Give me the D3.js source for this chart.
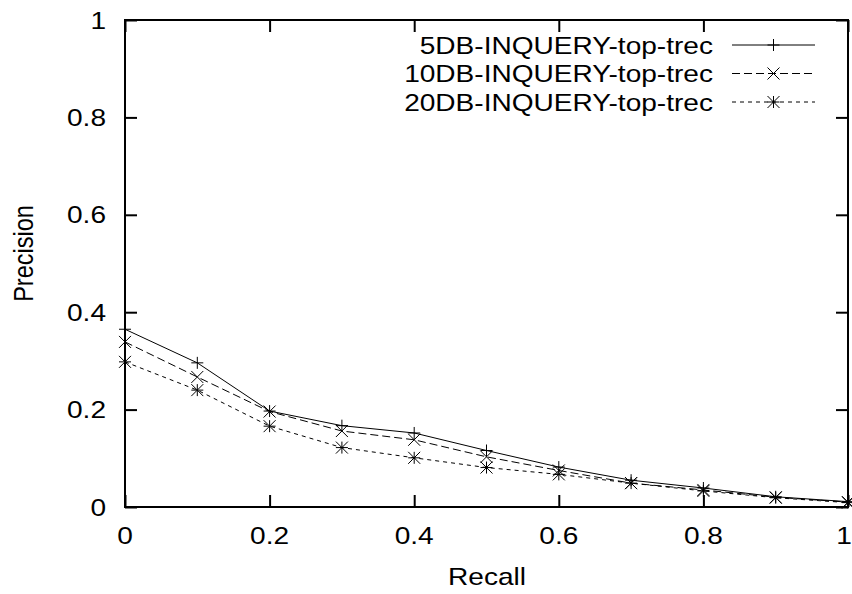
<!DOCTYPE html>
<html>
<head>
<meta charset="utf-8">
<script src="https://cdn.jsdelivr.net/npm/d3@7"></script>
<style>
  html, body { margin: 0; padding: 0; background: #fff; }
  svg { display: block; }
  text { font-family: "Liberation Sans", Arial, Helvetica, sans-serif; fill: #000; }
</style>
</head>
<body>
<svg id="chart" width="852" height="594"></svg>
<script>
// Recall levels shared by all runs
const recall = [0, 0.1, 0.2, 0.3, 0.4, 0.5, 0.6, 0.7, 0.8, 0.9, 1.0];

// Precision at each recall level
const precision5DB  = [0.365, 0.296, 0.197, 0.167, 0.152, 0.116, 0.082, 0.055, 0.039, 0.021, 0.011];
const precision10DB = [0.339, 0.267, 0.196, 0.156, 0.138, 0.103, 0.075, 0.049, 0.035, 0.020, 0.010];
const precision20DB = [0.298, 0.240, 0.166, 0.122, 0.101, 0.081, 0.067, 0.049, 0.033, 0.019, 0.009];

const seriesNames = ["5DB-INQUERY-top-trec", "10DB-INQUERY-top-trec", "20DB-INQUERY-top-trec"];

const xTicks = [0, 0.2, 0.4, 0.6, 0.8, 1];
const xTickLabels = ["0", "0.2", "0.4", "0.6", "0.8", "1"];
const yTicks = [0, 0.2, 0.4, 0.6, 0.8, 1];
const yTickLabels = ["0", "0.2", "0.4", "0.6", "0.8", "1"];

const series = [
  { name: seriesNames[0], values: precision5DB,  dash: null,  marker: "plus" },
  { name: seriesNames[1], values: precision10DB, dash: "8,4", marker: "cross" },
  { name: seriesNames[2], values: precision20DB, dash: "4,4", marker: "star" }
];

const svg = d3.select("#chart");
const plotLeft = 125, plotRight = 848, plotTop = 20, plotBottom = 507;

const x = d3.scaleLinear().domain([0, 1]).range([plotLeft, plotRight]);
const y = d3.scaleLinear().domain([0, 1]).range([plotBottom, plotTop]);

const fontSize = 24;
const stretch = 1.17;   // glyphs are drawn slightly wide
const tickLen = 12;

// Text helper: places a horizontally widened label at (px, py)
function label(px, py, str, anchor) {
  return svg.append("text")
    .attr("transform", `translate(${px},${py}) scale(${stretch},1)`)
    .attr("text-anchor", anchor)
    .attr("font-size", fontSize)
    .text(str);
}

// Inward ticks on all four sides
const axisBottom = d3.axisBottom(x).tickValues(xTicks).tickSize(-tickLen).tickFormat("");
const axisTop = d3.axisTop(x).tickValues(xTicks).tickSize(-tickLen).tickFormat("");
const axisLeft = d3.axisLeft(y).tickValues(yTicks).tickSize(-tickLen).tickFormat("");
const axisRight = d3.axisRight(y).tickValues(yTicks).tickSize(-tickLen).tickFormat("");

function styleAxis(g) {
  g.select(".domain").remove();
  g.selectAll(".tick line").attr("stroke", "#000").attr("stroke-width", 2);
}

svg.append("g").attr("transform", `translate(0,${plotBottom})`).call(axisBottom).call(styleAxis);
svg.append("g").attr("transform", `translate(0,${plotTop})`).call(axisTop).call(styleAxis);
svg.append("g").attr("transform", `translate(${plotLeft},0)`).call(axisLeft).call(styleAxis);
svg.append("g").attr("transform", `translate(${plotRight},0)`).call(axisRight).call(styleAxis);

// Tick labels
xTicks.forEach((v, i) => {
  const px = Math.min(x(v), 844);
  label(px, 544, xTickLabels[i], "middle");
});
yTicks.forEach((v, i) => {
  label(106, y(v) + 8.5, yTickLabels[i], "end");
});

// Plot frame
svg.append("rect")
  .attr("x", plotLeft).attr("y", plotTop)
  .attr("width", plotRight - plotLeft).attr("height", plotBottom - plotTop)
  .attr("fill", "none").attr("stroke", "#000").attr("stroke-width", 2);

// Axis titles
label(487, 585, "Recall", "middle");
svg.append("text")
  .attr("transform", `translate(33,253.5) rotate(-90) scale(1,${stretch})`)
  .attr("text-anchor", "middle").attr("font-size", fontSize - 0.5).text("Precision");

// Marker path generators
const m = 6;
function markerPath(type, cx, cy) {
  const plus = `M${cx - m},${cy}H${cx + m}M${cx},${cy - m}V${cy + m}`;
  const cross = `M${cx - m},${cy - m}L${cx + m},${cy + m}M${cx - m},${cy + m}L${cx + m},${cy - m}`;
  if (type === "plus") return plus;
  if (type === "cross") return cross;
  return plus + cross;
}

const line = d3.line().x(d => x(d[0])).y(d => y(d[1]));

series.forEach(s => {
  const pts = recall.map((r, i) => [r, s.values[i]]);
  svg.append("path")
    .attr("d", line(pts))
    .attr("fill", "none").attr("stroke", "#000").attr("stroke-width", 1)
    .attr("stroke-dasharray", s.dash);
  svg.append("g").selectAll("path").data(pts).join("path")
    .attr("d", d => markerPath(s.marker, x(d[0]), y(d[1])))
    .attr("fill", "none").attr("stroke", "#000").attr("stroke-width", 1);
});

// Legend
const legendTextX = 713, legendLineX0 = 732, legendLineX1 = 815;
const legendY = [45, 73.5, 102];
series.forEach((s, i) => {
  const ly = legendY[i];
  label(legendTextX, ly + 8.5, s.name, "end");
  svg.append("line").attr("x1", legendLineX0).attr("x2", legendLineX1)
    .attr("y1", ly).attr("y2", ly)
    .attr("stroke", "#000").attr("stroke-width", 1).attr("stroke-dasharray", s.dash);
  svg.append("path").attr("d", markerPath(s.marker, (legendLineX0 + legendLineX1) / 2, ly))
    .attr("fill", "none").attr("stroke", "#000").attr("stroke-width", 1);
});
</script>
</body>
</html>
